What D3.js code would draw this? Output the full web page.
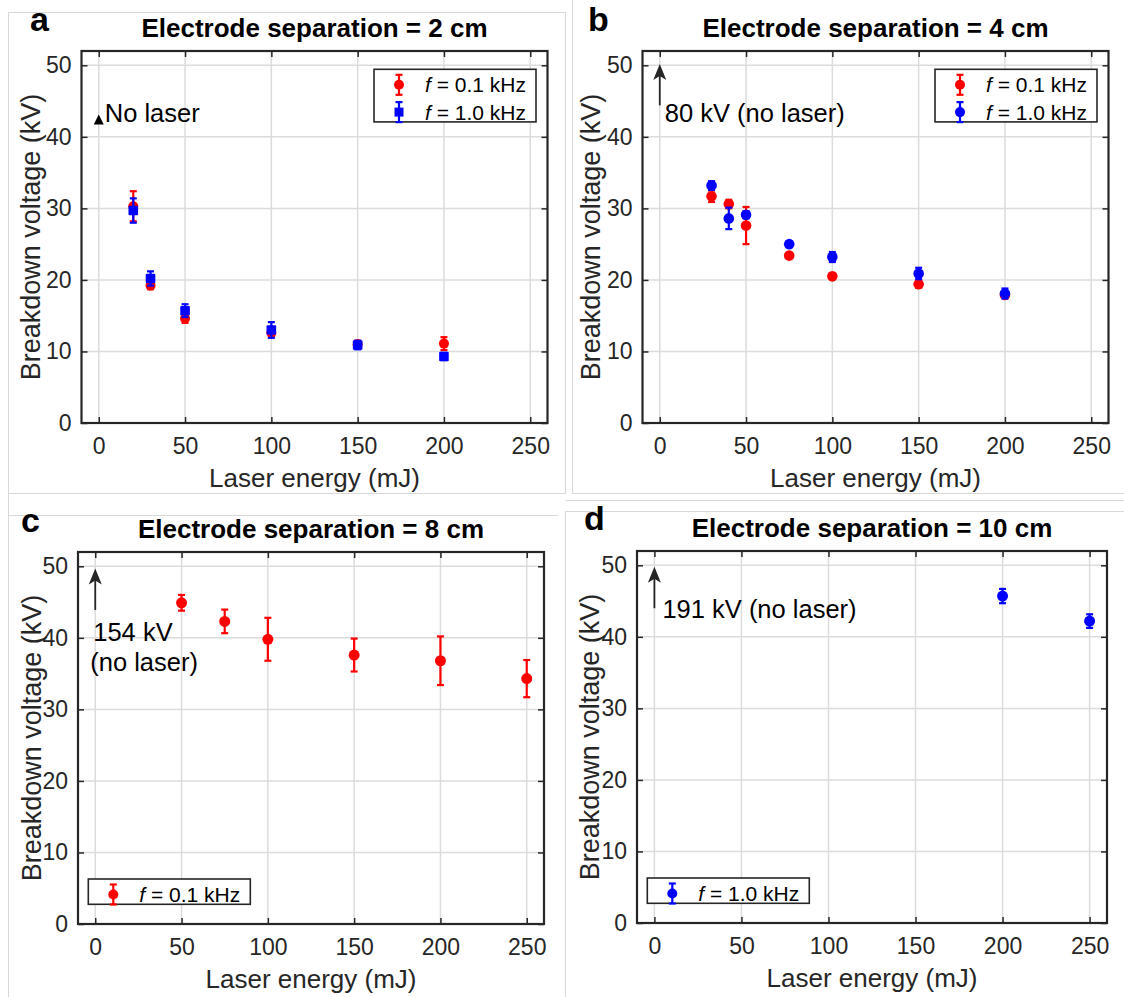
<!DOCTYPE html>
<html>
<head>
<meta charset="utf-8">
<script src="https://cdn.jsdelivr.net/npm/d3@7"></script>
<style>
  html, body { margin: 0; padding: 0; background: #fff; }
  svg { display: block; font-family: "Liberation Sans", Arial, Helvetica, sans-serif; }
</style>
</head>
<body>
<svg id="fig" width="1124" height="997"></svg>
<script>
// ---- data: breakdown voltage (kV) vs laser energy (mJ) ----
const xTicks = [0, 50, 100, 150, 200, 250];
const yTicks = [0, 10, 20, 30, 40, 50];

// (a) 2 cm gap
const aEnergy = [20, 30, 50, 100, 150, 200];
const aV01 = [30.3, 19.2, 14.6, 12.6, 11.0, 11.1];
const aErr01 = [2.1, 0.5, 0.6, 0.5, 0.5, 0.9];
const aV10 = [29.7, 20.2, 15.7, 13.0, 10.9, 9.3];
const aErr10 = [1.7, 1.0, 0.9, 1.1, 0.6, 0.5];

// (b) 4 cm gap
const bEnergy = [30, 40, 50, 75, 100, 150, 200];
const bV01 = [31.7, 30.6, 27.6, 23.4, 20.5, 19.4, 17.9];
const bErr01 = [0.8, 0.6, 2.6, 0.3, 0.3, 0.5, 0.4];
const bV10 = [33.2, 28.6, 29.1, 25.0, 23.2, 20.9, 18.1];
const bErr10 = [0.6, 1.5, 0.5, 0.4, 0.7, 0.8, 0.7];

// (c) 8 cm gap
const cEnergy = [50, 75, 100, 150, 200, 250];
const cV01 = [44.9, 42.3, 39.8, 37.6, 36.8, 34.3];
const cErr01 = [1.1, 1.65, 3.0, 2.3, 3.4, 2.6];

// (d) 10 cm gap
const dEnergy = [200, 250];
const dV10 = [45.7, 42.2];
const dErr10 = [1.0, 0.95];

const titles = ["Electrode separation = 2 cm", "Electrode separation = 4 cm",
                "Electrode separation = 8 cm", "Electrode separation = 10 cm"];
const letters = ["a", "b", "c", "d"];
const noLaserLabels = ["No laser", "80 kV (no laser)", "154 kV|(no laser)", "191 kV (no laser)"];
const legendLabels01 = "0.1 kHz";
const legendLabels10 = "1.0 kHz";

const RED = "#ff0000", BLUE = "#0000ff", INK = "#262626", GRID = "#dcdcdc";
const svg = d3.select("#fig");

// faint borders of the four panel images
const frames = svg.append("g").attr("fill", "none").attr("stroke", "#d8d8d8").attr("stroke-width", 1);
frames.append("path").attr("d", "M8.5,1010V12.5H565.5V493.5H8.5");
frames.append("path").attr("d", "M572.5,-2V493.5H1130");
frames.append("path").attr("d", "M565.5,500.5H1130");
frames.append("path").attr("d", "M565.5,1010V511.5H1130");
frames.append("path").attr("d", "M8.5,1010V515.5H558");

const panels = [
  { left: 81.5, top: 51, w: 466, h: 372, letter: [30, 31], ylab: -51 },
  { left: 642.5, top: 51, w: 466, h: 372, letter: [588, 31], ylab: -52 },
  { left: 78, top: 552, w: 466, h: 372, letter: [21, 532], ylab: -46 },
  { left: 637, top: 551, w: 470, h: 372, letter: [584, 530], ylab: -47 }
];

function makePanel(i) {
  const p = panels[i];
  const g = svg.append("g").attr("transform", `translate(${p.left},${p.top})`);
  const x = d3.scaleLinear().domain([-10, 260]).range([0, p.w]);
  const y = d3.scaleLinear().domain([0, 52]).range([p.h, 0]);

  // grid
  g.append("g").selectAll("line").data(xTicks).join("line")
    .attr("x1", d => x(d)).attr("x2", d => x(d)).attr("y1", 0).attr("y2", p.h)
    .attr("stroke", GRID).attr("stroke-width", 1.5);
  g.append("g").selectAll("line").data(yTicks).join("line")
    .attr("y1", d => y(d)).attr("y2", d => y(d)).attr("x1", 0).attr("x2", p.w)
    .attr("stroke", GRID).attr("stroke-width", 1.5);

  // axes (ticks inward on all four sides)
  const tickStyle = sel => {
    sel.select(".domain").remove();
    sel.selectAll(".tick line").attr("stroke", INK).attr("stroke-width", 1.5);
    sel.selectAll(".tick text").attr("fill", INK).attr("font-size", 23);
  };
  g.append("g").attr("transform", `translate(0,${p.h})`)
    .call(d3.axisBottom(x).tickValues(xTicks).tickSizeInner(-6).tickPadding(15))
    .call(tickStyle);
  g.append("g")
    .call(d3.axisTop(x).tickValues(xTicks).tickSizeInner(-6).tickFormat(""))
    .call(tickStyle);
  g.append("g")
    .call(d3.axisLeft(y).tickValues(yTicks).tickSizeInner(-6).tickPadding(10))
    .call(tickStyle);
  g.append("g").attr("transform", `translate(${p.w},0)`)
    .call(d3.axisRight(y).tickValues(yTicks).tickSizeInner(-6).tickFormat(""))
    .call(tickStyle);
  g.append("rect").attr("width", p.w).attr("height", p.h)
    .attr("fill", "none").attr("stroke", INK).attr("stroke-width", 2.2);

  // axis titles
  g.append("text").attr("x", p.w / 2).attr("y", p.h + 64)
    .attr("text-anchor", "middle").attr("font-size", 26).attr("fill", INK)
    .text("Laser energy (mJ)");
  g.append("text").attr("transform", `translate(${p.ylab},${p.h / 2}) rotate(-90)`)
    .attr("text-anchor", "middle").attr("dominant-baseline", "central")
    .attr("font-size", 27).attr("fill", INK)
    .text("Breakdown voltage (kV)");

  // title and panel letter
  g.append("text").attr("x", p.w / 2).attr("y", -14)
    .attr("text-anchor", "middle").attr("font-size", 26).attr("font-weight", "bold")
    .attr("fill", "#000").text(titles[i]);
  svg.append("text").attr("x", p.letter[0]).attr("y", p.letter[1])
    .attr("font-size", 34).attr("font-weight", "bold").attr("fill", "#000")
    .text(letters[i]);

  return { g, x, y, p };
}

function errorSeries(P, xs, vs, es, color, shape, r) {
  const grp = P.g.append("g");
  const cap = 3.5;
  xs.forEach((xv, k) => {
    const cx = P.x(xv), lo = P.y(vs[k] - es[k]), hi = P.y(vs[k] + es[k]);
    grp.append("line").attr("x1", cx).attr("x2", cx).attr("y1", lo).attr("y2", hi)
      .attr("stroke", color).attr("stroke-width", 2.2);
    [lo, hi].forEach(yy => grp.append("line")
      .attr("x1", cx - cap).attr("x2", cx + cap).attr("y1", yy).attr("y2", yy)
      .attr("stroke", color).attr("stroke-width", 2.2));
    const cy = P.y(vs[k]);
    if (shape === "square") {
      grp.append("rect").attr("x", cx - r).attr("y", cy - r)
        .attr("width", 2 * r).attr("height", 2 * r).attr("rx", 1)
        .attr("fill", color);
    } else {
      grp.append("circle").attr("cx", cx).attr("cy", cy).attr("r", r).attr("fill", color);
    }
  });
}

function legend(P, bx, by, bw, rows) {
  const rowH = 27.3;
  const bh = rows.length * rowH - 2;
  const lg = P.g.append("g").attr("transform", `translate(${bx},${by})`);
  lg.append("rect").attr("width", bw).attr("height", bh)
    .attr("fill", "#fff").attr("stroke", INK).attr("stroke-width", 1.6);
  rows.forEach((r, k) => {
    const cy = 15.5 + k * rowH, cx = 25;
    lg.append("line").attr("x1", cx).attr("x2", cx).attr("y1", cy - 10).attr("y2", cy + 10)
      .attr("stroke", r.color).attr("stroke-width", 2.2);
    [cy - 10, cy + 10].forEach(yy => lg.append("line")
      .attr("x1", cx - 3.5).attr("x2", cx + 3.5).attr("y1", yy).attr("y2", yy)
      .attr("stroke", r.color).attr("stroke-width", 2.2));
    if (r.shape === "square") {
      lg.append("rect").attr("x", cx - 4.5).attr("y", cy - 4.5).attr("width", 9).attr("height", 9)
        .attr("fill", r.color);
    } else {
      lg.append("circle").attr("cx", cx).attr("cy", cy).attr("r", 5).attr("fill", r.color);
    }
    const t = lg.append("text").attr("x", 51).attr("y", cy + 7.5)
      .attr("font-size", 21).attr("fill", "#000");
    t.append("tspan").attr("font-style", "italic").text("f");
    t.append("tspan").text(" = " + r.label);
  });
}

function upArrow(P, v0, v1) {
  const cx = P.x(0), y0 = P.y(v0), y1 = P.y(v1);
  P.g.append("line").attr("x1", cx).attr("x2", cx).attr("y1", y0).attr("y2", y1 + 8)
    .attr("stroke", INK).attr("stroke-width", 1.8);
  P.g.append("path").attr("d", `M${cx},${y1}L${cx - 6.5},${y1 + 16}L${cx},${y1 + 12}L${cx + 6.5},${y1 + 16}Z`)
    .attr("fill", INK);
}

// (a)
const A = makePanel(0);
errorSeries(A, aEnergy, aV01, aErr01, RED, "circle", 5);
errorSeries(A, aEnergy, aV10, aErr10, BLUE, "square", 4.8);
legend(A, 292.5, 18.3, 162, [
  { color: RED, shape: "circle", label: legendLabels01 },
  { color: BLUE, shape: "square", label: legendLabels10 }
]);
{
  const tx = A.x(0), ty = A.y(42.3);
  A.g.append("path").attr("d", `M${tx},${ty - 6}L${tx - 5},${ty + 4}L${tx + 5},${ty + 4}Z`).attr("fill", "#000");
  A.g.append("text").attr("x", tx + 6).attr("y", ty + 2).attr("font-size", 25.5).attr("fill", "#000")
    .text(noLaserLabels[0]);
}

// (b)
const B = makePanel(1);
errorSeries(B, bEnergy, bV01, bErr01, RED, "circle", 5.3);
errorSeries(B, bEnergy, bV10, bErr10, BLUE, "circle", 5.3);
legend(B, 292.5, 18.3, 162, [
  { color: RED, shape: "circle", label: legendLabels01 },
  { color: BLUE, shape: "circle", label: legendLabels10 }
]);
upArrow(B, 44.4, 50.2);
B.g.append("text").attr("x", B.x(0) + 5).attr("y", B.y(42.3) + 2).attr("font-size", 25.5).attr("fill", "#000")
  .text(noLaserLabels[1]);

// (c)
const C = makePanel(2);
errorSeries(C, cEnergy, cV01, cErr01, RED, "circle", 5.5);
legend(C, 10.3, C.p.h - 45, 162, [{ color: RED, shape: "circle", label: legendLabels01 }]);
upArrow(C, 43.9, 49.7);
noLaserLabels[2].split("|").forEach((s, k) => {
  C.g.append("text").attr("x", C.x(0) - 2 + (k ? -3 : 0)).attr("y", C.y(39.5) + k * 30)
    .attr("font-size", 25.5).attr("fill", "#000").text(s);
});

// (d)
const D = makePanel(3);
errorSeries(D, dEnergy, dV10, dErr10, BLUE, "circle", 5.5);
legend(D, 10.3, D.p.h - 45, 162, [{ color: BLUE, shape: "circle", label: legendLabels10 }]);
upArrow(D, 44.0, 49.8);
D.g.append("text").attr("x", D.x(0) + 8).attr("y", D.y(42.7)).attr("font-size", 25.5).attr("fill", "#000")
  .text(noLaserLabels[3]);
</script>
</body>
</html>
